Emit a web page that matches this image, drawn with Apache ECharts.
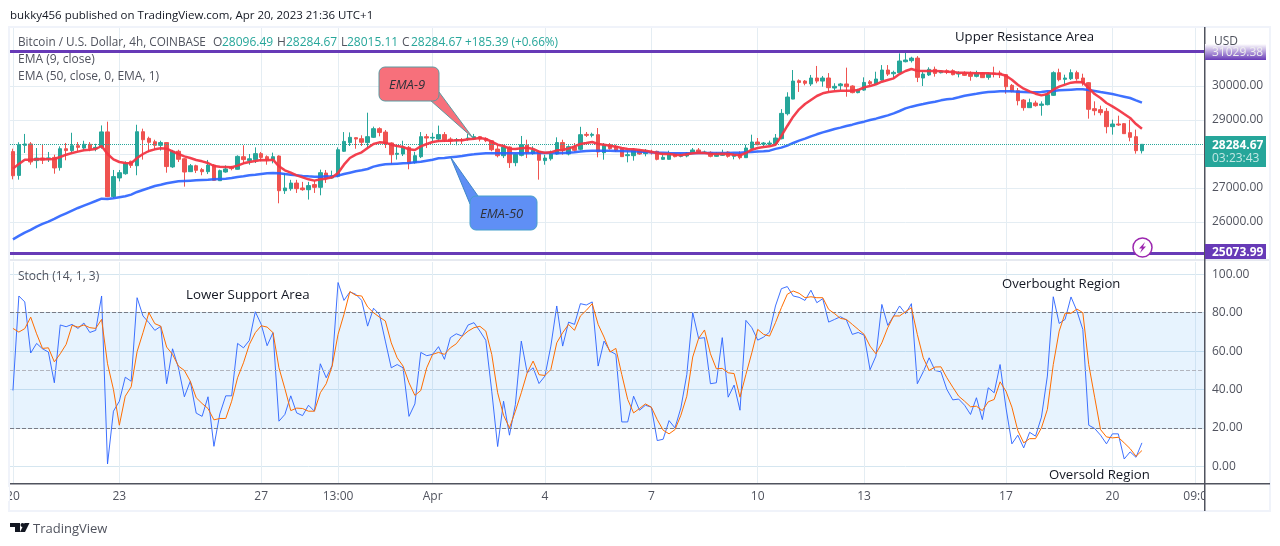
<!DOCTYPE html>
<html>
<head>
<meta charset="utf-8">
<title>BTC/USD 4h</title>
<script src="https://cdn.jsdelivr.net/npm/echarts@6/dist/echarts.min.js"></script>
<style>
html, body { margin: 0; padding: 0; background: #fff; }
#main { width: 1280px; height: 546px; }
</style>
</head>
<body>
<div id="main"></div>
<script>
// open, close, low, high - one row per 4h candle
var ohlc = [
    [28070,27360,27255,28155],[27370,28275,27245,28345],[28255,28295,28030,28590],[28295,27765,27685,28350],[27805,27880,27580,28175],
    [27880,27820,27705,28295],[27855,27885,27765,28060],[27900,27590,27420,27980],[27600,28155,27510,28225],[28155,28100,27815,28325],
    [28100,28245,28030,28625],[28245,28195,28080,28350],[28175,28285,28100,28390],[28285,28155,28080,28350],[28155,28195,28080,28300],
    [28205,28650,28155,28840],[28650,26745,26730,28950],[26745,27335,26705,27530],[27295,27450,27195,27530],[27420,27715,27390,27785],
    [27785,27665,27590,27805],[27655,28655,27375,28860],[28655,28420,27835,28745],[28460,28345,28050,28510],[28360,28255,28125,28420],
    [28255,28335,28100,28390],[28335,27630,27450,28350],[27620,28080,27590,28120],[28080,27845,27765,28125],[27860,27470,27040,27880],
    [27480,27655,27470,27705],[27655,27520,27440,27685],[27540,27480,27375,27590],[27480,27675,27410,27825],[27675,27225,27215,27705],
    [27215,27510,27215,27540],[27470,27560,27450,27665],[27600,27570,27520,27650],[27550,27930,27540,27960],[27920,27835,27705,28255],
    [27805,27860,27685,28000],[27835,28010,27735,28195],[28010,27900,27785,28060],[27920,27835,27685,27960],[27835,27920,27725,28040],
    [27940,26920,26550,27960],[26920,27000,26825,27440],[26980,27145,26920,27240],[27145,26980,26855,27240],[27000,26950,26920,27180],
    [26950,27070,26660,27180],[27100,27020,26855,27215],[27020,27450,26785,27540],[27440,27275,27150,27530],[27295,27365,27275,27510],
    [27345,28125,27315,28195],[28080,28370,28060,28645],[28335,28490,28235,28635],[28480,28440,28155,28490],[28450,28345,28235,28550],
    [28335,28510,28175,29215],[28490,28745,28470,28805],[28745,28635,28520,28785],[28645,28305,28175,28705],[28325,27980,27705,28345],
    [27990,28020,27835,28255],[28000,28195,27940,28390],[28195,27725,27550,28235],[27745,27950,27715,28060],[27920,28510,27880,28645],
    [28510,28470,28175,28590],[28470,28490,28370,28625],[28440,28570,28370,28835],[28570,28420,28350,28645],[28440,28390,28275,28490],
    [28390,28420,28255,28470],[28420,28390,28295,28470],[28430,28470,28390,28590],[28440,28510,28410,28590],[28510,28440,28370,28530],
    [28450,28390,28350,28490],[28390,28125,28080,28410],[28145,27950,27900,28255],[27950,28205,27880,28255],[28205,27745,27590,28225],
    [27745,27990,27640,28010],[27960,28275,27930,28530],[28265,28040,27880,28420],[28010,28110,27980,28225],[28080,27815,27245,28100],
    [27805,27880,27685,27980],[27860,28000,27805,28100],[28000,28335,27980,28490],[28335,28110,27980,28420],[28000,28215,27960,28255],
    [28206,28108,28070,28323],[28137,28568,28108,28800],[28578,28549,28500,28647],[28549,28578,28490,28627],[28568,28059,27902,28764],
    [28039,28255,27833,28323],[28274,28157,28127,28323],[28225,28108,28059,28274],[28147,27922,27912,28176],[27951,27980,27755,28078],
    [27951,28108,27804,28176],[28108,28000,27980,28147],[28010,28078,27931,28147],[28049,28029,27980,28127],[28078,27843,27814,28098],
    [27843,27902,27824,28029],[27843,27980,27833,28098],[28000,27922,27902,28020],[27931,27980,27902,28020],[27941,28029,27902,28059],
    [28039,28118,28000,28176],[28118,28039,28000,28176],[28039,28059,28000,28098],[28049,27931,27902,28078],[27931,27980,27912,28059],
    [27961,28029,27941,28127],[28059,27931,27892,28078],[27931,27980,27843,28029],[28000,27892,27843,28078],[27892,28176,27882,28274],
    [28167,28353,28137,28568],[28353,28274,28255,28470],[28294,28323,28225,28353],[28294,28323,28255,28392],[28304,28470,28274,28588],
    [28450,29195,28430,29320],[29185,29675,29135,29815],[29615,30145,29610,30470],[30155,30105,29825,30195],[30145,30080,30020,30175],
    [30060,30235,30000,30325],[30235,30145,30080,30590],[30145,30235,29980,30295],[30235,29950,29830,30380],[29940,29990,29880,30080],
    [30010,30060,29880,30090],[30060,29980,29685,30540],[30000,29805,29785,30020],[29805,29880,29785,29920],[29880,30105,29860,30255],
    [30125,30070,30020,30175],[30060,30205,30030,30420],[30175,30470,30155,30615],[30470,30350,30295,30615],[30360,30400,30225,30450],
    [30390,30735,30370,30960],[30715,30765,30695,30980],[30745,30820,30690,30860],[30820,30255,30115,30880],[30235,30350,30000,30410],
    [30325,30490,30295,30550],[30490,30370,30275,30570],[30390,30440,30370,30470],[30450,30410,30350,30490],[30450,30333,30313,30490],
    [30352,30382,30254,30431],[30382,30313,30294,30431],[30352,30284,30156,30431],[30284,30382,30254,30450],[30382,30245,30235,30411],
    [30254,30352,30186,30382],[30382,30352,30254,30568],[30382,30333,30235,30450],[30333,29980,29774,30352],[30019,29833,29813,30058],
    [29862,29568,29431,29941],[29588,29363,29274,29617],[29363,29510,29353,29627],[29500,29421,29392,29568],[29431,29470,29127,29549],
    [29451,29745,29431,29823],[29725,30392,29706,30431],[30392,30186,30137,30509],[30196,30235,30058,30333],[30215,30392,30176,30490],
    [30392,30215,30156,30450],[30235,30088,30009,30362],[30098,29314,29039,30117],[29333,29274,29137,29549],[29304,29216,29137,29421],
    [29255,28804,28608,29353],[28804,28882,28569,29010],[28882,28853,28824,29127],[28892,28598,28588,28912],[28628,28490,28373,29010],
    [28510,28098,28010,28716],[28096.49,28284.67,28015.11,28284.67]
];

var ema9 = [
    27570,27706,27833,27833,27843,27853,27843,27853,27912,27980,
    28029,28069,28108,28127,28147,28235,28000,27843,27765,27735,
    27726,27882,28000,28088,28137,28167,28157,28078,28000,27931,
    27882,27824,27784,27735,27647,27628,27618,27608,27657,27726,
    27765,27794,27824,27814,27833,27637,27520,27451,27373,27314,
    27255,27216,27255,27275,27314,27441,27686,27882,27980,28049,
    28176,28294,28343,28333,28274,28235,28206,28137,28118,28225,
    28294,28353,28382,28392,28392,28402,28402,28431,28451,28470,
    28441,28363,28274,28235,28157,28147,28167,28186,28147,28069,
    28039,28049,28108,28118,28160,28225,28294,28323,28353,28294,
    28274,28245,28216,28176,28147,28137,28118,28098,28069,28020,
    28000,28000,27980,27961,27990,28020,28039,28029,28010,28000,
    28010,28000,27980,27961,28029,28127,28176,28206,28225,28274,
    28530,28824,29098,29314,29470,29588,29706,29784,29823,29843,
    29862,29862,29862,29882,29960,30000,30049,30127,30176,30225,
    30352,30441,30499,30450,30441,30441,30441,30431,30421,30411,
    30392,30392,30382,30372,30372,30372,30362,30352,30303,30186,
    30039,29921,29843,29774,29725,29764,29892,29980,30039,30098,
    30117,30107,29941,29764,29647,29500,29402,29294,29176,29059,
    28882,28745
];

var ema50 = [
    25491,25589,25687,25766,25864,25942,26011,26089,26177,26256,
    26334,26412,26481,26550,26618,26687,26677,26697,26726,26755,
    26804,26883,26942,27000,27059,27098,27138,27167,27196,27206,
    27216,27226,27236,27245,27255,27265,27275,27294,27324,27343,
    27373,27392,27412,27432,27441,27432,27412,27392,27373,27353,
    27343,27334,27334,27343,27334,27363,27412,27451,27490,27520,
    27559,27628,27667,27696,27706,27716,27726,27735,27755,27775,
    27804,27833,27873,27882,27902,27922,27941,27971,27990,28010,
    28020,28020,28020,28020,28020,28025,28025,28025,28030,28030,
    28030,28030,28020,28030,28040,28050,28070,28085,28095,28098,
    28098,28098,28090,28085,28080,28080,28070,28060,28050,28040,
    28040,28030,28025,28020,28020,28025,28030,28030,28030,28030,
    28030,28030,28040,28040,28050,28060,28070,28080,28098,28150,
    28187,28245,28324,28392,28451,28520,28579,28637,28686,28735,
    28775,28824,28863,28912,28951,29000,29039,29088,29137,29196,
    29265,29343,29392,29431,29470,29510,29539,29578,29608,29627,
    29670,29715,29745,29774,29804,29823,29833,29843,29843,29843,
    29833,29823,29813,29813,29823,29843,29853,29872,29882,29892,
    29902,29902,29882,29853,29823,29794,29764,29725,29686,29647,
    29578,29510
];

var stochK = [
    39.5,88.7,85.6,59,64,61.2,59.5,43.5,73.6,72.7,
    73.9,71.8,74.6,69.7,70.8,88.7,1.2,28.7,33.9,46.4,
    44.3,87.8,78.3,74.8,70.8,72.9,43,61.2,51.3,36.2,
    44.3,27.7,26,36.2,10.4,27.3,36.7,36.7,64,61.7,
    65.6,80.5,73.9,62.8,69.6,23.5,27,36.7,27.8,26.4,
    31.8,28.7,53.4,46.1,52.5,95.7,86.4,90.8,89.6,86.4,
    73,82.3,79.1,65.2,51.3,53,51.3,26,32.5,59.3,
    57.6,58.3,62.3,55.7,67,69,67.8,73.6,74.8,70.4,
    65.6,39.1,10.3,33.9,16.2,32.2,65.2,48.7,51.3,43.1,
    47,62.6,83.5,62.6,75.1,73.9,84.7,84,85.6,52.2,
    65.2,60,58.3,23.1,23.1,36.5,29.2,31.8,30.8,13.4,
    14.1,23.8,20,30.4,47.8,80,66.6,67,43,43.5,
    67,36,42.3,29.2,76,72.2,65.7,67.3,69.9,83.5,
    92.5,93.6,88.7,88,86.4,91.7,85.2,87.3,75.1,76.5,
    77.9,76.2,68.7,69.7,68.3,50.3,57.4,84.3,73.4,78.3,
    83.5,79.5,84.7,43,49.2,56.5,49.9,49.2,40,34.6,
    35,31.8,27,35.7,24.3,40.9,38.3,53,30.4,11.7,
    16.2,9.6,17.7,15.7,25.6,47,88.3,74.4,76.5,88.2,
    80.9,71.3,21.4,19.7,16.2,11.7,16.9,16.9,3.8,7.5,
    4.7,12.2
];

var stochD = [
    71.8,69.9,71.7,77.7,69,61.4,61.7,54.4,58.6,63.5,
    73.4,72.5,73.6,72.2,71.8,76.5,53.4,40,21.4,36.5,
    41.4,59.7,69.6,80,74.3,73,62.1,58.3,52.2,49.9,
    44.3,35.7,32.7,30.1,24.2,24.9,24.9,33.9,46.1,53.9,
    63.5,69.6,73.2,72.5,69.6,51.3,40.5,29,30.3,30.1,
    28.7,28.7,38.3,43,52.2,68.7,79.1,91,89,88.7,
    83,80,77.7,75.7,64.3,56.5,52.2,43.5,36.9,39.5,
    51.3,58.3,59.3,58.3,61.7,63.8,67.8,70.4,72.2,72.9,
    70.4,58.3,38.3,26.6,20,28.7,38.3,48.7,54.8,47.7,
    47.3,50.4,64.3,69.6,73.9,70.8,78.3,81.2,84.7,73.9,
    67.3,59.5,61.4,47.8,34.8,27.8,30.1,32.5,30.8,24.3,
    18.8,16.9,19.1,26.6,36.5,56.9,66.6,71,58.6,50.8,
    51,48.7,48.3,36,47.8,59.1,71.3,68.7,67.8,74.8,
    82.6,89.6,91.3,90.1,87.8,88.3,87.8,87.8,81.7,79.5,
    77,76.5,73.9,71.3,68.7,62.6,58.6,64.3,72.2,78.3,
    78.3,80.5,82.6,68.7,56.5,49.9,51.7,51.8,46.1,41.2,
    36.5,33.9,31,31.3,29,33.6,34.8,44,39.1,30.8,
    18.6,12.2,14.4,14.4,20,29.6,53,70.4,79.7,79.7,
    81.9,80,53,36,19.1,15.3,14.8,15.1,12.2,9.2,
    5.2,8.2
];

// bar index -> time label, the remaining bars have no label
var timeLabels = {0: '20', 18: '23', 42: '27', 55: '13:00', 71: 'Apr', 90: '4', 108: '7', 126: '10', 144: '13', 168: '17', 186: '20', 200: '09:0'};
var barCount = 202;
var priceTicks = [26000, 27000, 28000, 29000, 30000, 31000];
var stochTicks = [0, 20, 40, 60, 80, 100];
var resistance = 31029.38;
var support = 25073.99;
var lastPrice = 28284.67;

var FONT = '"Open Sans", sans-serif';
var GREY = '#50535e';
var GRID_COLOR = '#e4edf3';
var GREEN = '#26a69a';
var RED = '#ef5350';
var PURPLE = '#673ab7';

var categories = [];
for (var i = 0; i < barCount; i++) {
    categories.push(timeLabels[i] || '');
}

function hasLabel(index) {
    return categories[index] !== '';
}

function txt(text, x, y, color, size, extra) {
    var style = {text: text, x: x, y: y + 0.8, fill: color, font: (size || 12) + 'px ' + FONT, textVerticalAlign: 'middle'};
    for (var k in (extra || {})) {
        style[k] = extra[k];
    }
    return {type: 'text', z: 120, silent: true, style: style};
}

function rect(x, y, w, h, fill, z) {
    return {type: 'rect', z: z || 110, silent: true, shape: {x: x, y: y, width: w, height: h}, style: {fill: fill}};
}

function poly(points, fill, stroke) {
    return {type: 'polygon', z: 115, silent: true, shape: {points: points}, style: {fill: fill, stroke: stroke || null, lineWidth: stroke ? 1 : 0}};
}

var graphic = [
    // frame, pane separator, right axis
    {type: 'rect', z: 105, silent: true, shape: {x: 9, y: 27, width: 1261, height: 484}, style: {fill: null, stroke: '#f0f3fa', lineWidth: 2}},
    rect(1205, 487, 10, 14, '#fff', 106),
    rect(0, 487, 9, 14, '#fff', 106),
    rect(10, 259, 1260, 2, '#e6e9f0', 100),
    rect(1204, 27, 1.5, 484, GREY, 108),
    rect(10, 483, 1260, 1.5, GREY, 108),

    txt('bukky456 published on TradingView.com, Apr 20, 2023 21:36 UTC+1', 10, 15, '#131722', 11.5),

    txt('Bitcoin / U.S. Dollar, 4h, COINBASE', 18, 41.5, GREY, 11.75),
    txt('O', 213, 41.5, GREY, 12), txt('28096.49', 222, 41.5, GREEN, 12),
    txt('H', 277, 41.5, GREY, 12), txt('28284.67', 286, 41.5, GREEN, 12),
    txt('L', 341, 41.5, GREY, 12), txt('28015.11', 347, 41.5, GREEN, 12),
    txt('C', 402, 41.5, GREY, 12), txt('28284.67', 411, 41.5, GREEN, 12),
    txt('+185.39 (+0.66%)', 465, 41.5, GREEN, 11.75),
    txt('EMA (9, close)', 18, 59, GREY, 12),
    txt('EMA (50, close, 0, EMA, 1)', 18, 75.5, GREY, 12),
    txt('Stoch (14, 1, 3)', 18, 275.5, GREY, 12),

    txt('Upper Resistance Area', 955, 36.5, '#131722', 13.2),
    txt('Lower Support Area', 186, 294.5, '#131722', 13.3),
    txt('Overbought Region', 1002, 283.5, '#131722', 13.1),
    txt('Oversold Region', 1049, 474.5, '#131722', 13.2),

    // callouts
    poly([[430, 100], [473, 138], [439, 92]], '#f7707b', '#5a9aa0'),
    {type: 'rect', z: 116, silent: true, shape: {x: 379, y: 67, width: 60, height: 34, r: 6}, style: {fill: '#f7707b', stroke: '#5a9aa0', lineWidth: 1}},
    txt('EMA-9', 389, 84, '#30323a', 13, {font: 'italic 13px ' + FONT}),
    poly([[470, 204], [450.5, 157], [478, 196]], '#5f8ff5', '#3f86c8'),
    {type: 'rect', z: 116, silent: true, shape: {x: 470, y: 196, width: 67, height: 34, r: 6}, style: {fill: '#5f8ff5', stroke: '#47a0cc', lineWidth: 1}},
    txt('EMA-50', 480, 213, '#30323a', 13, {font: 'italic 13px ' + FONT}),

    // right side tags
    txt('USD', 1214, 41, GREY, 12),
    {type: 'rect', z: 110, silent: true, shape: {x: 1205, y: 44, width: 61, height: 16},
        style: {fill: new echarts.graphic.LinearGradient(0, 0, 0, 1, [{offset: 0, color: '#fff'}, {offset: 1, color: PURPLE}])}},
    txt(resistance.toFixed(2), 1212, 52, '#eee', 12),
    rect(1205, 136, 61, 31, GREEN),
    txt(lastPrice.toFixed(2), 1212, 144.5, '#fff', 12, {font: 'bold 12px ' + FONT}),
    txt('03:23:43', 1212, 158, '#c4e8e4', 12),
    rect(1205, 244, 61, 15, PURPLE),
    txt(support.toFixed(2), 1212, 252, '#fff', 12, {font: 'bold 12px ' + FONT}),

    // flash badge
    {type: 'circle', z: 115, silent: true, shape: {cx: 1142.5, cy: 247.5, r: 9.5}, style: {fill: '#fff', stroke: '#9c27b0', lineWidth: 1.5}},
    poly([[1145, 242], [1139, 248.5], [1142, 248.5], [1140, 253], [1146, 246.5], [1143, 246.5]], '#9c27b0'),

    // logo
    poly([[10, 523], [20, 523], [20, 532], [15, 532], [15, 527], [10, 527]], '#131722'),
    {type: 'circle', z: 115, silent: true, shape: {cx: 22.5, cy: 525, r: 2}, style: {fill: '#131722'}},
    poly([[24.5, 523], [29.5, 523], [25, 532], [20, 532]], '#131722'),
    txt('TradingView', 33, 528.5, GREY, 13)
];

var option = {
    animation: false,
    backgroundColor: '#fff',
    textStyle: {fontFamily: FONT},
    graphic: graphic,
    grid: [
        {left: 10, width: 1194, top: 28, height: 232},
        {left: 10, width: 1194, top: 262, height: 221.5}
    ],
    xAxis: [0, 1].map(function (g) {
        return {
            type: 'category',
            gridIndex: g,
            data: categories,
            boundaryGap: true,
            axisLine: {show: false},
            axisTick: {show: false, alignWithLabel: true, interval: function (index) { return hasLabel(index); }},
            splitLine: {show: true, alignWithLabel: true, interval: function (index) { return hasLabel(index); }, lineStyle: {color: GRID_COLOR, width: 1}},
            axisLabel: {
                show: g === 1,
                interval: function (index) { return hasLabel(index); },
                color: GREY,
                fontSize: 12,
                margin: 7,
                hideOverlap: false
            }
        };
    }),
    yAxis: [
        {
            type: 'value',
            gridIndex: 0,
            position: 'right',
            min: 24882,
            max: 31706,
            axisLine: {show: false},
            axisTick: {show: false, customValues: priceTicks},
            splitLine: {show: true, lineStyle: {color: GRID_COLOR, width: 1}},
            axisLabel: {customValues: priceTicks, color: GREY, fontSize: 12, margin: 8, padding: [2, 0, 0, 0], formatter: function (v) { return v.toFixed(2); }}
        },
        {
            type: 'value',
            gridIndex: 1,
            position: 'right',
            min: -8.96,
            max: 106.4,
            axisLine: {show: false},
            axisTick: {show: false, customValues: stochTicks},
            splitLine: {show: true, lineStyle: {color: '#d5e6f0', width: 1}},
            axisLabel: {customValues: stochTicks, color: GREY, fontSize: 12, margin: 8, padding: [2, 0, 0, 0], formatter: function (v) { return v.toFixed(2); }}
        }
    ],
    series: [
        {
            name: 'BTCUSD',
            type: 'candlestick',
            xAxisIndex: 0,
            yAxisIndex: 0,
            data: ohlc,
            barWidth: 4,
            z: 3,
            itemStyle: {color: GREEN, color0: RED, borderColor: GREEN, borderColor0: RED, borderWidth: 1},
            markLine: {
                silent: true,
                symbol: 'none',
                label: {show: false},
                animation: false,
                data: [
                    {yAxis: lastPrice, lineStyle: {color: GREEN, type: 'dotted', width: 1}},
                    {yAxis: resistance, lineStyle: {color: PURPLE, type: 'solid', width: 3}},
                    {yAxis: support, lineStyle: {color: PURPLE, type: 'solid', width: 3}}
                ]
            }
        },
        {
            name: 'EMA 50',
            type: 'line',
            xAxisIndex: 0,
            yAxisIndex: 0,
            data: ema50,
            showSymbol: false,
            z: 4,
            lineStyle: {color: '#2962ff', width: 2.5, opacity: 0.9}
        },
        {
            name: 'EMA 9',
            type: 'line',
            xAxisIndex: 0,
            yAxisIndex: 0,
            data: ema9,
            showSymbol: false,
            z: 5,
            lineStyle: {color: '#f23645', width: 2.5, opacity: 0.95}
        },
        {
            name: 'Stoch K',
            type: 'line',
            xAxisIndex: 1,
            yAxisIndex: 1,
            data: stochK,
            showSymbol: false,
            z: 4,
            lineStyle: {color: '#2962ff', width: 1, opacity: 0.9},
            markArea: {
                silent: true,
                itemStyle: {color: 'rgba(33,150,243,0.11)'},
                data: [[{yAxis: 20}, {yAxis: 80}]]
            },
            markLine: {
                silent: true,
                symbol: 'none',
                label: {show: false},
                animation: false,
                data: [
                    {yAxis: 80, lineStyle: {color: '#787b86', type: 'dashed', width: 1}},
                    {yAxis: 50, lineStyle: {color: '#b2b5be', type: 'dashed', width: 1}},
                    {yAxis: 20, lineStyle: {color: '#787b86', type: 'dashed', width: 1}}
                ]
            }
        },
        {
            name: 'Stoch D',
            type: 'line',
            xAxisIndex: 1,
            yAxisIndex: 1,
            data: stochD,
            showSymbol: false,
            z: 5,
            lineStyle: {color: '#ff6d00', width: 1}
        }
    ]
};

var myChart = echarts.init(document.getElementById('main'));
myChart.setOption(option);
</script>
</body>
</html>
